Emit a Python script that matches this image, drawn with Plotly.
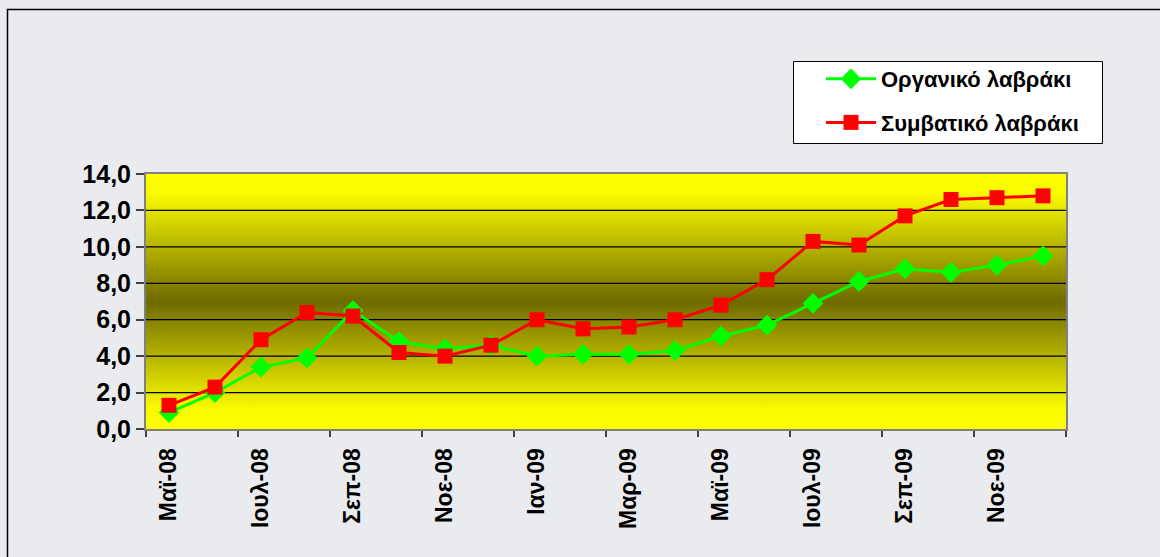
import plotly.graph_objects as go

months = ["Μαϊ-08", "Ιουν-08", "Ιουλ-08", "Αυγ-08", "Σεπ-08", "Οκτ-08", "Νοε-08", "Δεκ-08",
          "Ιαν-09", "Φεβ-09", "Μαρ-09", "Απρ-09", "Μαϊ-09", "Ιουν-09", "Ιουλ-09", "Αυγ-09",
          "Σεπ-09", "Οκτ-09", "Νοε-09", "Δεκ-09"]
organic = [0.9, 2.0, 3.4, 3.9, 6.5, 4.8, 4.4, 4.6, 4.0, 4.1, 4.1, 4.3, 5.1, 5.7, 6.9, 8.1, 8.8, 8.6, 9.0, 9.5]
conventional = [1.3, 2.3, 4.9, 6.4, 6.2, 4.2, 4.0, 4.6, 6.0, 5.5, 5.6, 6.0, 6.8, 8.2, 10.3, 10.1, 11.7, 12.6, 12.7, 12.8]
y_ticks = [0, 2, 4, 6, 8, 10, 12, 14]
name_org = "Οργανικό λαβράκι"
name_conv = "Συμβατικό λαβράκι"

n = len(months)
idx = list(range(n))
x_lo, x_hi = -0.5, n - 0.5
y_lo, y_hi = y_ticks[0], y_ticks[-1]

FONT = "Liberation Sans, Arial, sans-serif"

fig = go.Figure()

# gradient plot background
fig.add_trace(go.Scatter(
    x=[x_lo, x_hi, x_hi, x_lo, x_lo], y=[y_lo, y_lo, y_hi, y_hi, y_lo],
    mode="lines", line=dict(width=0), fill="toself",
    fillgradient=dict(type="vertical",
                      colorscale=[[0, "#ffff00"], [0.08, "#fafa00"], [0.5, "#6e6a00"],
                                  [0.92, "#fafa00"], [1, "#ffff00"]]),
    hoverinfo="skip", showlegend=False))

# gridlines above the gradient
gx, gy = [], []
for v in y_ticks[1:-1]:
    gx += [x_lo, x_hi, None]
    gy += [v, v, None]
fig.add_trace(go.Scatter(x=gx, y=gy, mode="lines", line=dict(color="#000000", width=1.2),
                         hoverinfo="skip", showlegend=False))

fig.add_trace(go.Scatter(
    x=idx, y=organic, name=name_org, mode="lines+markers",
    line=dict(color="#00ff00", width=3),
    marker=dict(symbol="diamond", size=16, color="#00ff00"),
    legendgroup="a"))
fig.add_trace(go.Scatter(
    x=idx, y=conventional, name=name_conv, mode="lines+markers",
    line=dict(color="#ff0000", width=3),
    marker=dict(symbol="square", size=15, color="#ff0000"),
    legendgroup="b"))

L, T, W, H = 146, 174, 920, 255
def px_x(p):
    return (p - L) / W
def px_y(p):
    return (T + H - p) / H

fig.update_layout(
    width=1160, height=557,
    margin=dict(l=L, r=1160 - L - W, t=T, b=557 - T - H, pad=0),
    paper_bgcolor="#eaebee",
    plot_bgcolor="#ffff00",
    separators=",.",
    font=dict(family=FONT, color="#000000"),
    showlegend=True,
    legend=dict(x=px_x(821), y=px_y(58), xanchor="left", yanchor="top",
                bgcolor="rgba(0,0,0,0)", borderwidth=0,
                font=dict(family=FONT, size=22, weight="bold", color="#000000"),
                traceorder="grouped", tracegroupgap=12, itemwidth=50),
    xaxis=dict(range=[x_lo, x_hi], tickmode="array", tickvals=idx[::2], ticktext=months[::2],
               tickangle=-90, ticks="", showgrid=False, zeroline=False,
               showline=True, linecolor="#808080", linewidth=2, mirror=True,
               tickfont=dict(family=FONT, size=23, weight="bold", color="#000000"),
               ticklabelstandoff=8,
               minor=dict(tickmode="array", tickvals=[i - 0.5 for i in range(0, n + 1, 2)],
                          ticks="outside", ticklen=6, tickwidth=1.5, tickcolor="#404040",
                          showgrid=False)),
    yaxis=dict(range=[y_lo, y_hi], tickmode="array", tickvals=y_ticks, tickformat=".1f",
               ticks="outside", ticklen=8, tickwidth=1.5, tickcolor="#404040",
               showgrid=False, zeroline=False,
               showline=True, linecolor="#808080", linewidth=2, mirror=True,
               tickfont=dict(family=FONT, size=25, weight="bold", color="#000000")),
    shapes=[
        dict(type="rect", xref="paper", yref="paper",
             x0=px_x(7.5), x1=px_x(1175), y0=px_y(575), y1=px_y(9.5),
             line=dict(color="#000000", width=1.5), fillcolor="rgba(0,0,0,0)", layer="above"),
        dict(type="rect", xref="paper", yref="paper",
             x0=px_x(793.5), x1=px_x(1102.5), y0=px_y(143.5), y1=px_y(61.5),
             line=dict(color="#000000", width=1), fillcolor="#ffffff", layer="above"),
    ],
)

fig.write_html("out.html", config={"displayModeBar": False},
               post_script="document.body.style.margin='0';document.body.style.padding='0';")
